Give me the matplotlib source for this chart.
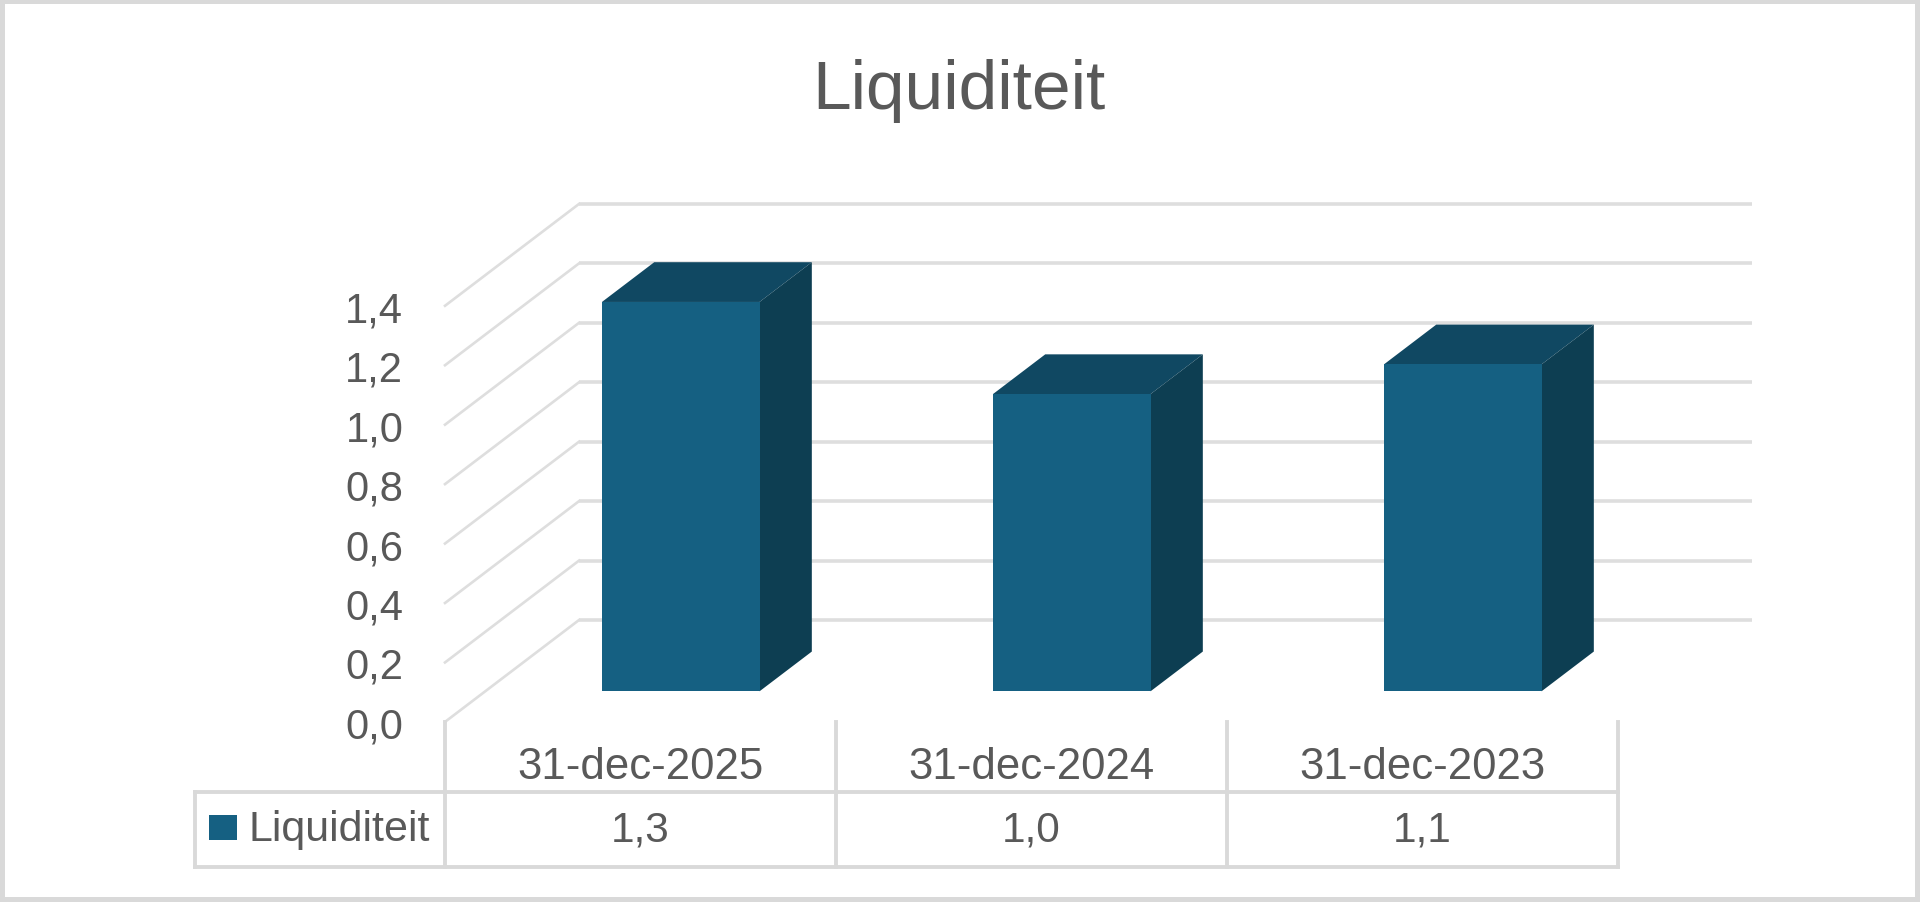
import matplotlib
matplotlib.use('Agg')
import matplotlib.pyplot as plt
from matplotlib.patches import Rectangle

# data
title = 'Liquiditeit'
series_name = 'Liquiditeit'
dates = ['31-dec-2025', '31-dec-2024', '31-dec-2023']
bar_heights = [1.31, 1.0, 1.1]
table_values = ['1,3', '1,0', '1,1']
y_ticks = [0.0, 0.2, 0.4, 0.6, 0.8, 1.0, 1.2, 1.4]

FRONT = '#156082'
TOP = '#104862'
SIDE = '#0d3e52'
GRID = '#dedede'
TABLE = '#d9d9d9'
TEXT = '#595959'

W, H = 1920, 903
plt.rcParams['font.family'] = ['Liberation Sans', 'DejaVu Sans']

fig = plt.figure(figsize=(W / 100, H / 100), dpi=100)

# axes holds the front plane of the 3d box, in pixels from the top left
left, right, top, bottom = 445, 1618, 306.8, 722.9
ax = fig.add_axes([left / W, 1 - bottom / H, (right - left) / W, (bottom - top) / H])
ax.set_xlim(-0.5, 2.5)
ax.set_ylim(0, 1.4)
for s in ax.spines.values():
    s.set_visible(False)

# oblique depth, same amount in both data units
DEPTH = 0.343
BAR_W = 0.403
D0, D1 = 0.30, 0.69


def proj(x, y, d):
    return x + d * DEPTH, y + d * DEPTH


# gridlines on side wall and back wall
for v in y_ticks:
    a = proj(-0.5, v, 0)
    b = proj(-0.5, v, 1)
    c = proj(2.5, v, 1)
    ax.plot([a[0], b[0]], [a[1], b[1]], color=GRID, lw=1.9, clip_on=False, zorder=1)
    ax.plot([b[0], c[0]], [b[1], c[1]], color=GRID, lw=2.6, clip_on=False, zorder=1,
            solid_capstyle='butt')

# bars
for i, h in enumerate(bar_heights):
    x0 = i - BAR_W / 2
    x1 = i + BAR_W / 2
    corners = [(x0, 0, D0), (x1, 0, D0), (x1, h, D0), (x0, h, D0)]
    top_face = [(x0, h, D0), (x1, h, D0), (x1, h, D1), (x0, h, D1)]
    side_face = [(x1, 0, D0), (x1, 0, D1), (x1, h, D1), (x1, h, D0)]
    for face, col in [(top_face, TOP), (side_face, SIDE), (corners, FRONT)]:
        pts = [proj(*p) for p in face]
        ax.fill([p[0] for p in pts], [p[1] for p in pts], color=col, lw=0,
                clip_on=False, zorder=3)

# axis labels
ax.set_yticks(y_ticks)
ax.set_yticklabels([f'{v:.1f}'.replace('.', ',') for v in y_ticks])
ax.tick_params(axis='y', length=0, pad=30, labelsize=30, labelcolor=TEXT)
ax.set_xticks(range(len(dates)))
ax.set_xticklabels(dates)
ax.tick_params(axis='x', length=0, pad=17, labelsize=31.5, labelcolor=TEXT)

# data table, row edges in value units below the axis
row_mid = -0.2365
row_low = -0.4885
val_y = -0.362
legend_left = -0.5 - (445 - 195) / 391
for x in [-0.5, 0.5, 1.5, 2.5]:
    ax.plot([x, x], [0, row_low], color=TABLE, lw=2.8, clip_on=False, zorder=1)
ax.plot([legend_left, legend_left], [row_mid, row_low], color=TABLE, lw=2.8, clip_on=False)
for y in [row_mid, row_low]:
    ax.plot([legend_left, 2.5], [y, y], color=TABLE, lw=2.8, clip_on=False, zorder=1)
for i, t in enumerate(table_values):
    ax.text(i, val_y, t, ha='center', va='center', fontsize=30.5, color=TEXT)

# legend key inside the table
fig.add_artist(Rectangle((209 / W, 1 - 841 / H), 28 / W, 25 / H, transform=fig.transFigure,
                         fc=FRONT, ec='none'))
fig.text(248 / W, 1 - 830 / H, series_name, ha='left', va='center', fontsize=31, color=TEXT)

fig.text(959 / W, 1 - 91 / H, title, ha='center', va='center', fontsize=50, color=TEXT)

# outer frame, half of it falls off the canvas
fig.add_artist(Rectangle((0, 0), 1, 1, transform=fig.transFigure, fill=False,
                         ec=TABLE, lw=7.2))

fig.savefig('out.png', dpi=100, facecolor='white')
